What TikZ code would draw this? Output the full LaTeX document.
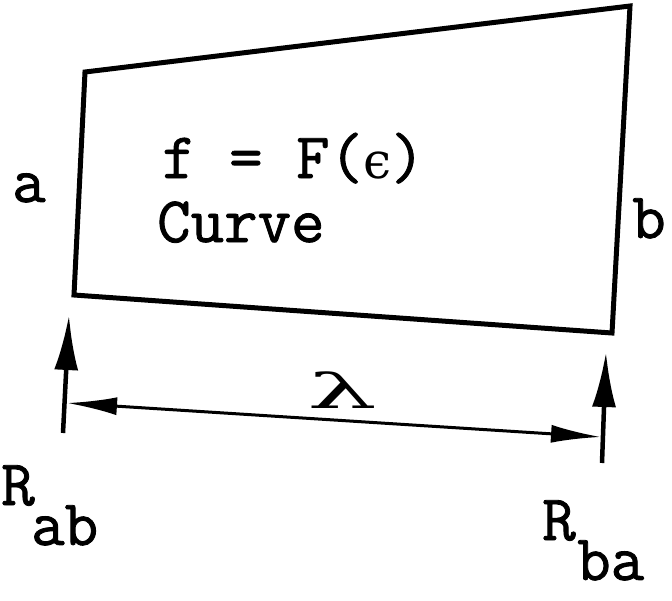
\documentclass[tikz,border=0pt]{standalone}
\usepackage{fontspec}
\newfontfamily\tw{Latin Modern Mono}[FakeBold=1.3]
\newfontfamily\grk{DejaVu Serif}
\usetikzlibrary{arrows.meta}
\begin{document}
\begin{tikzpicture}[x=1pt,y=-1pt,
  lbl/.style={font=\fontsize{65}{65}\selectfont\tw, inner sep=0pt, anchor=base west},
  frame/.style={line width=5pt, line join=miter},
  force/.style={line width=4.5pt, -{Latex[length=55pt,width=24pt]}},
  dim/.style={line width=3pt, {Latex[length=50pt,width=18pt]}-{Latex[length=50pt,width=18pt]}}]
\useasboundingbox (0,0) rectangle (672,600);
% quadrilateral element
\coordinate (TL) at (85,72);
\coordinate (TR) at (630,6);
\coordinate (BR) at (612,333);
\coordinate (BL) at (74,295);
\draw[frame] (TL) -- (TR) -- (BR) -- (BL) -- cycle;
% texts inside
\node[lbl] (eq) at (162,178) {f = F({\grk\fontsize{50}{50}\selectfont ϵ})};
\node[lbl] (curve) at (157,242) {Curve};
% end labels
\node[lbl] (a) at (12,202) {a};
\node[lbl] (b) at (632,238) {b};
% reactions
\coordinate (Ra0) at (63,433);
\coordinate (Ra1) at (69,315);
\coordinate (Rb0) at (602,463);
\coordinate (Rb1) at (606,352);
\draw[force] (Ra0) -- (Ra1);
\draw[force] (Rb0) -- (Rb1);
% dimension line
\coordinate (DL) at (67,403);
\coordinate (DR) at (601,437);
\draw[dim] (DL) -- (DR);
\node[font=\fontsize{48}{48}\selectfont\grk, xscale=2.3, inner sep=0pt] (lam) at (342,390) {λ};
% reaction labels
\node[lbl] (R1) at (1,505) {R};
\node[lbl] (ab) at (31,545) {ab};
\node[lbl] (R2) at (542,540) {R};
\node[lbl] (ba) at (577,580) {ba};
\end{tikzpicture}
\end{document}
